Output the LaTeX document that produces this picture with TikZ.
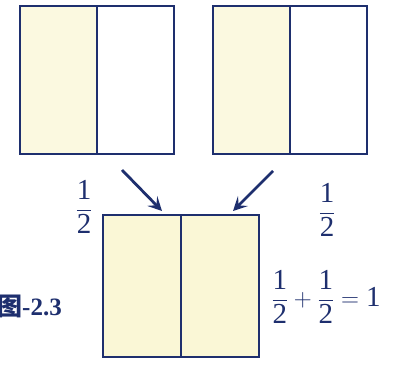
\documentclass[tikz,border=0pt]{standalone}
\usepackage{amsmath}
\usepackage{fontspec}
\setmainfont{Liberation Serif}
\newfontfamily\cjk{Noto Sans CJK SC}
\usetikzlibrary{arrows.meta}
\definecolor{navy}{HTML}{1E2F6E}
\definecolor{pale}{HTML}{FBF9E0}
\definecolor{paleb}{HTML}{FAF7D6}
\newcommand{\hf}{\dfrac{\text{1}}{\text{2}}}
\begin{document}
\begin{tikzpicture}[x=1pt,y=-1pt,
  half/.style={draw=navy,line width=1.6pt,minimum width=77pt,minimum height=148pt,inner sep=0pt,anchor=north west},
  frac/.style={text=navy,font=\fontsize{29}{34}\selectfont,inner sep=0pt},
  arr/.style={draw=navy,line width=2.8pt,-{Stealth[length=14pt,width=14pt,inset=6pt]}}]
\useasboundingbox (0,0) rectangle (398,366);
% top-left box
\node[half,fill=pale] (tla) at (19,5) {};
\node[half] (tlb) at (96,5) {};
% top-right box
\node[half,fill=pale] (tra) at (212,5) {};
\node[half] (trb) at (289,5) {};
% bottom box
\node[half,fill=paleb,minimum width=78pt,minimum height=142pt] (ba) at (102,214) {};
\node[half,fill=paleb,minimum width=78pt,minimum height=142pt] (bb) at (180,214) {};
% arrows
\coordinate (a1s) at (122,170);
\coordinate (a1e) at (162,211);
\coordinate (a2s) at (273,171);
\coordinate (a2e) at (233,211);
\draw[arr] (a1s) -- (a1e);
\draw[arr] (a2s) -- (a2e);
% fractions
\node[frac] (f1) at (84,207) {$\hf$};
\node[frac] (f2) at (327,210) {$\hf$};
\node[frac] (eq) at (326,297) {$\hf+\hf=\text{1}$};
% figure label
\node[text=navy,font=\fontsize{25}{30}\selectfont\bfseries,anchor=base west,inner sep=0pt] (lab) at (-3,315) {{\cjk 图}-2.3};
\end{tikzpicture}
\end{document}
